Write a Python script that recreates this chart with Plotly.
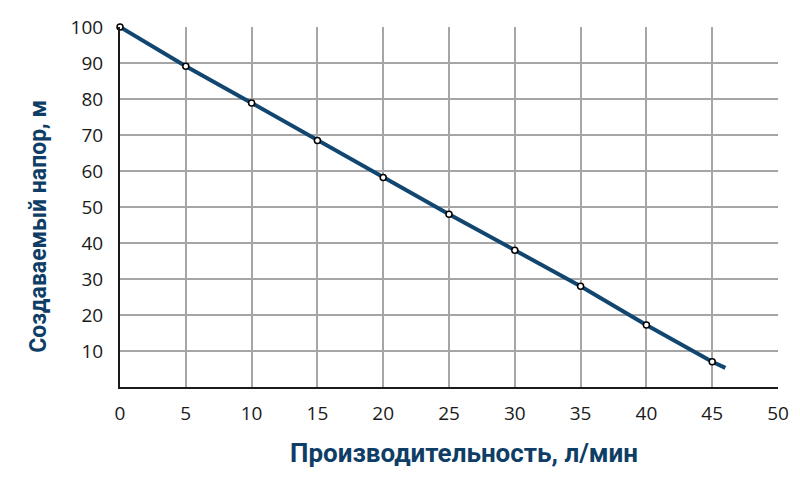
import plotly.graph_objects as go

# расход, л/мин и напор, м (точки с маркерами)
flow = [0, 5, 10, 15, 20, 25, 30, 35, 40, 45]
head = [100, 89.1, 78.9, 68.5, 58.2, 48, 38, 28, 17.2, 7]
# линия продолжается чуть дальше последней точки
line_flow = flow + [46]
line_head = head + [5.3]

x_ticks = [0, 5, 10, 15, 20, 25, 30, 35, 40, 45, 50]
y_ticks = [10, 20, 30, 40, 50, 60, 70, 80, 90, 100]

blue = '#114670'
title_blue = '#0e3d66'

fig = go.Figure()
fig.add_trace(go.Scatter(x=line_flow, y=line_head, mode='lines',
                         line=dict(color=blue, width=4), cliponaxis=False,
                         hoverinfo='skip'))
fig.add_trace(go.Scatter(x=flow, y=head, mode='markers', cliponaxis=False,
                         marker=dict(size=6, color='white',
                                     line=dict(color='black', width=1.5))))

# страница сдвигает график на 8px, поэтому размеры чуть меньше
fig.update_layout(
    width=792, height=492,
    margin=dict(l=112, r=22, t=19, b=113),
    plot_bgcolor='white', paper_bgcolor='white',
    showlegend=False,
    font=dict(family='Open Sans', size=19, color='#1a1a1a'),
)
fig.update_xaxes(
    range=[0, 50], tickvals=x_ticks, showgrid=True, gridcolor='#a6a6a6', gridwidth=2,
    showline=True, linecolor='#1a1a1a', linewidth=2, zeroline=False,
    ticks='outside', ticklen=8, tickcolor='rgba(0,0,0,0)', automargin=False,
)
fig.update_yaxes(
    range=[0, 100], tickvals=y_ticks, showgrid=True, gridcolor='#a6a6a6', gridwidth=2,
    showline=True, linecolor='#1a1a1a', linewidth=2, zeroline=False,
    ticks='outside', ticklen=11, tickcolor='rgba(0,0,0,0)', automargin=False,
)

# подписи осей - аннотациями, чтобы поставить их как в оригинале
fig.add_annotation(text='Производительность, л/мин', xref='paper', yref='paper',
                   x=0.523, y=0, yanchor='middle', yshift=-66, showarrow=False,
                   font=dict(family='Roboto', size=26, color=title_blue, weight='bold'))
fig.add_annotation(text='Создаваемый напор, м', xref='paper', yref='paper',
                   x=0, y=0.445, xanchor='center', xshift=-81, textangle=-90,
                   showarrow=False,
                   font=dict(family='Roboto', size=23, color=title_blue, weight='bold'))

fig.write_html('out.html')
